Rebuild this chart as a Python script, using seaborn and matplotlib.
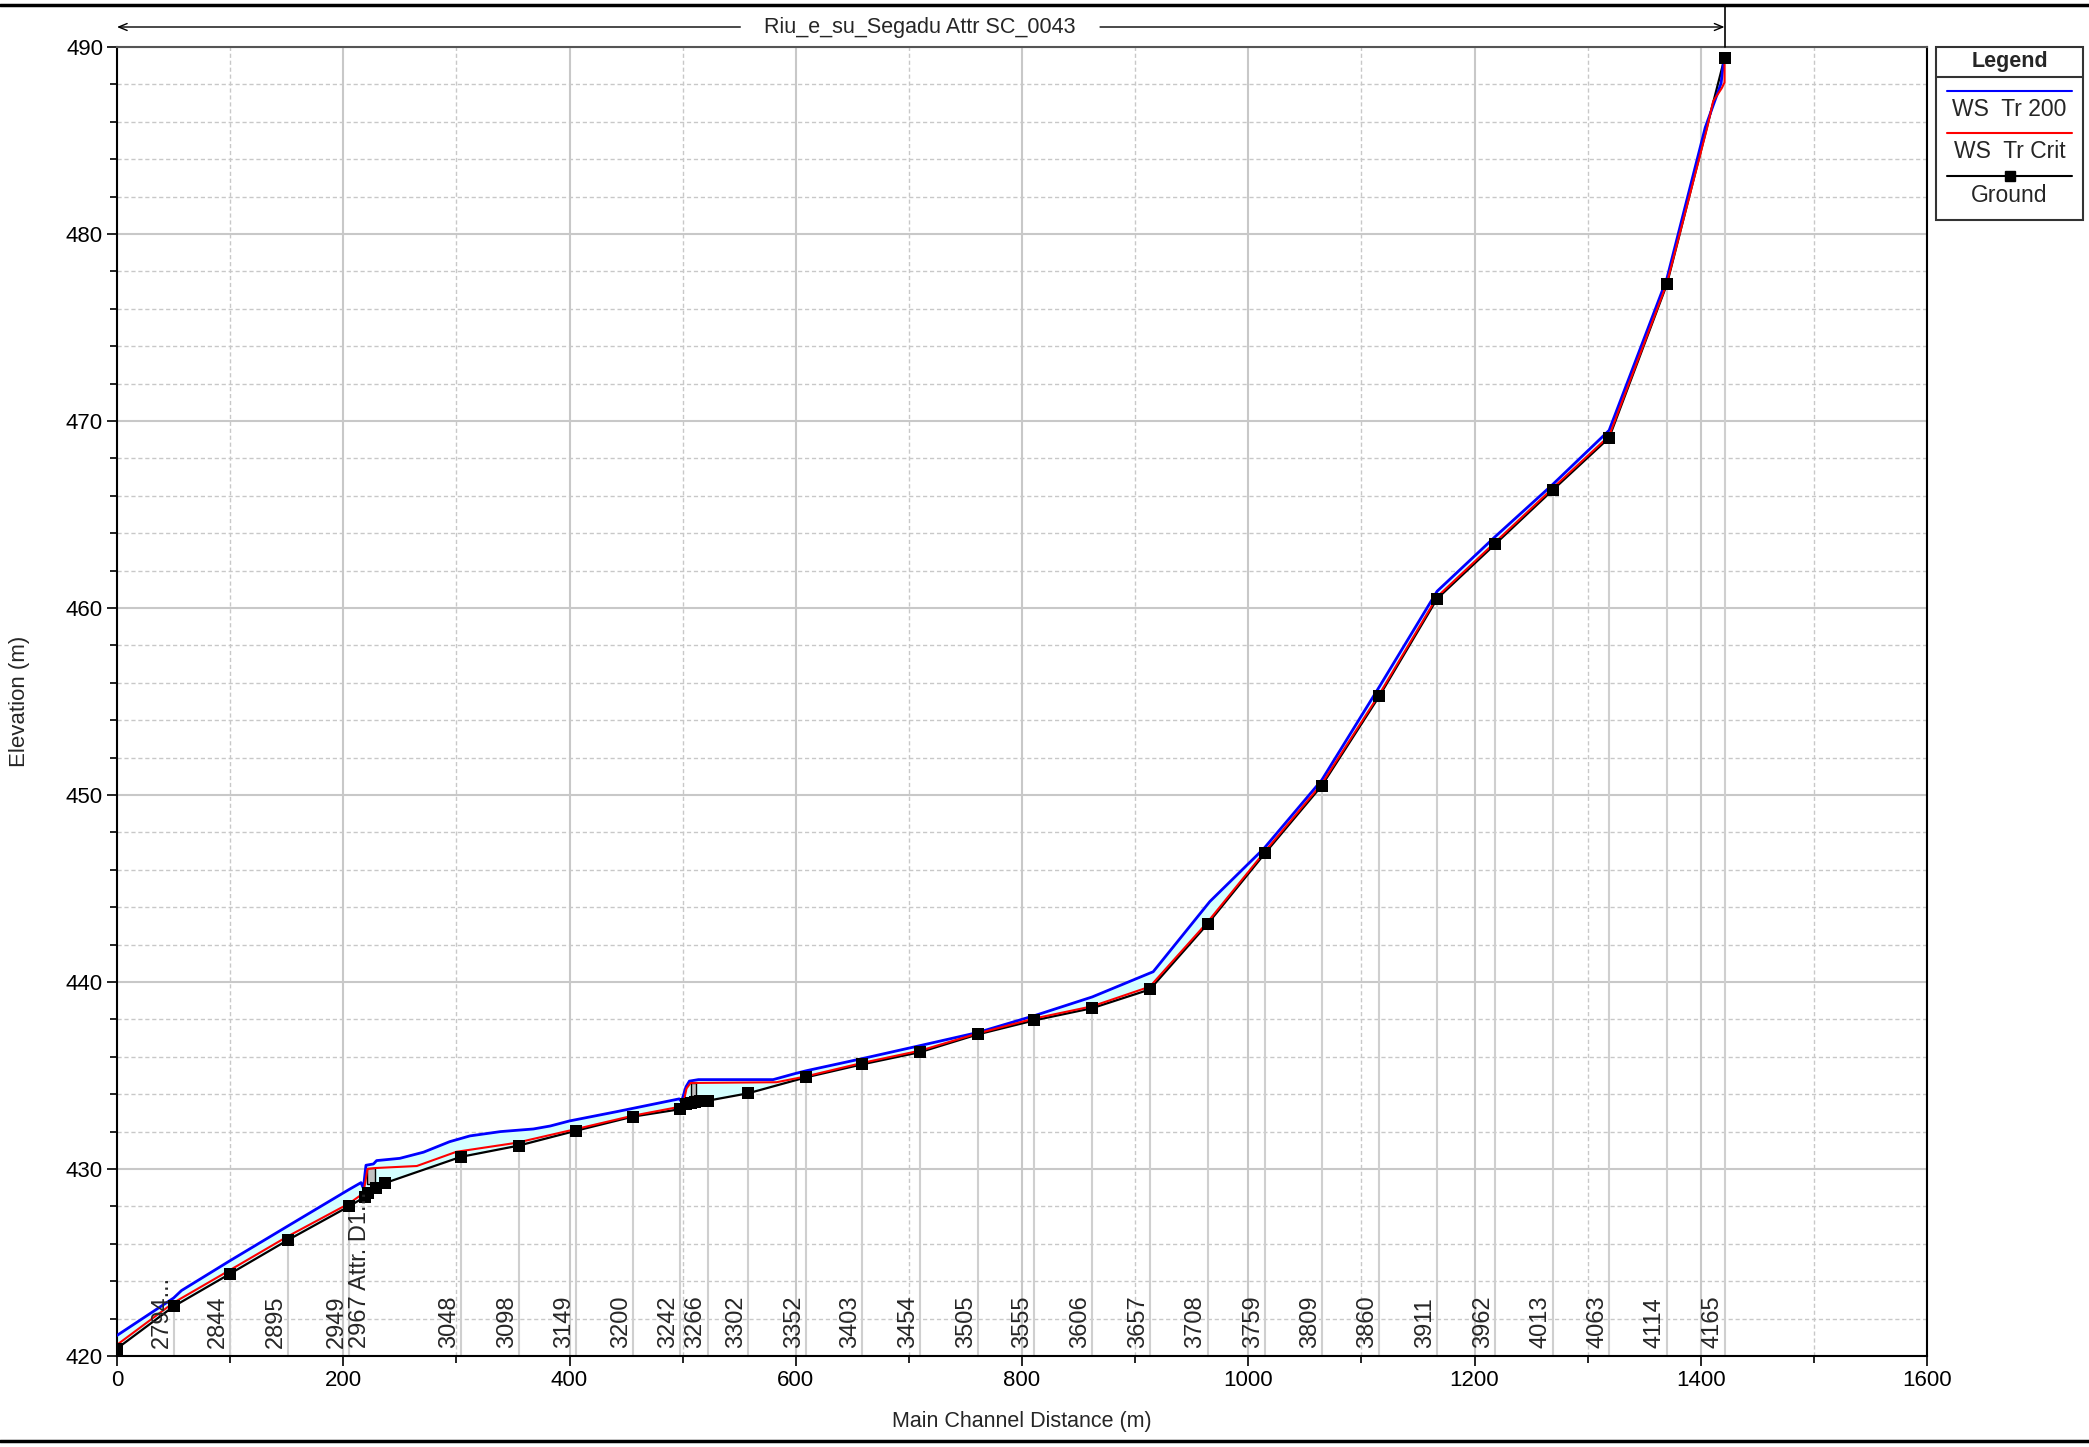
import numpy as np
import pandas as pd
import matplotlib
matplotlib.use("Agg")
import matplotlib.pyplot as plt
import seaborn as sns
from matplotlib.lines import Line2D
from matplotlib.patches import Rectangle
from matplotlib.transforms import blended_transform_factory

sns.set_style("white")
plt.rcParams['font.family'] = ['Liberation Sans', 'DejaVu Sans']

# Ground profile (main channel distance, m / elevation, m)
ground_x = [0, 50, 100, 151, 205, 219, 222, 229, 237, 304, 355, 406, 456, 498, 503, 507, 511, 515, 522,
            558, 609, 659, 710, 761, 811, 862, 913, 964, 1015, 1065, 1116, 1167, 1218, 1269, 1319, 1370, 1421]
ground_z = [420.4, 422.65, 424.4, 426.2, 428.0, 428.5, 428.7, 429.0, 429.25, 430.65, 431.25, 432.05, 432.8,
            433.2, 433.45, 433.55, 433.6, 433.62, 433.65, 434.05, 434.9, 435.6, 436.25, 437.2, 437.95, 438.6,
            439.6, 443.1, 446.9, 450.5, 455.3, 460.5, 463.4, 466.3, 469.1, 477.3, 489.4]

# WS Tr 200
ws200_x = [0, 50, 57, 100, 151, 205, 215.7, 217.8, 219.5, 220.1, 226.7, 229.5, 250, 271, 294, 312, 339, 368,
           383, 400, 442, 497, 499, 503, 506, 514, 580, 598, 609, 660, 710, 761, 811, 862, 916, 966, 1014,
           1065, 1116, 1167, 1218, 1269, 1319, 1370, 1404, 1418, 1421]
ws200_z = [421.1, 423.1, 423.5, 425.1, 426.95, 428.9, 429.27, 428.97, 429.9, 430.2, 430.27, 430.45, 430.57,
           430.9, 431.46, 431.77, 432.0, 432.14, 432.3, 432.57, 433.07, 433.75, 433.6, 434.4, 434.7, 434.78,
           434.78, 435.08, 435.25, 435.92, 436.6, 437.3, 438.2, 439.2, 440.55, 444.3, 447.15, 450.8, 455.8,
           460.9, 463.8, 466.6, 469.5, 477.6, 485.7, 488.06, 489.66]

# WS Tr Crit
crit_x = [0, 50, 100, 151, 205, 217.8, 221.4, 228, 265, 300, 353, 406, 456, 497.7, 501, 503.4, 507, 583, 608,
          660, 710, 761, 811, 862, 913, 964, 1015, 1065, 1116, 1167, 1218, 1269, 1319, 1370, 1405.5, 1411,
          1418.6, 1421, 1421]
crit_z = [420.6, 422.85, 424.6, 426.4, 428.15, 428.7, 430.0, 430.05, 430.16, 430.92, 431.4, 432.14, 432.85,
          433.33, 433.6, 434.3, 434.6, 434.64, 434.94, 435.69, 436.33, 437.25, 438.05, 438.7, 439.75, 443.2,
          447.0, 450.6, 455.4, 460.6, 463.5, 466.4, 469.2, 477.35, 485.65, 487.1, 487.8, 488.1, 489.4]

# River station labels
station_labels = ["2794...", "2844", "2895", "2949", "2967 Attr. D1...", "3048", "3098", "3149", "3200",
                  "3242", "3266", "3302", "3352", "3403", "3454", "3505", "3555", "3606", "3657", "3708",
                  "3759", "3809", "3860", "3911", "3962", "4013", "4063", "4114", "4165"]
station_x = [50, 100, 151, 205, 225, 304, 355, 406, 456, 498, 522, 558, 609, 659, 710, 761, 811, 862, 913,
             964, 1015, 1065, 1116, 1167, 1218, 1269, 1319, 1370, 1421]
# cross-section lines (stations that sit on a ground point)
xs_x = [50, 100, 151, 205, 304, 355, 406, 456, 498, 522, 558, 609, 659, 710, 761, 811, 862, 913,
        964, 1015, 1065, 1116, 1167, 1218, 1269, 1319, 1370, 1421]
xs_z = [422.65, 424.4, 426.2, 428.0, 430.65, 431.25, 432.05, 432.8, 433.2, 433.65, 434.05, 434.9, 435.6,
        436.25, 437.2, 437.95, 438.6, 439.6, 443.1, 446.9, 450.5, 455.3, 460.5, 463.4, 466.3, 469.1,
        477.3, 489.4]

# bridge decks
bridge_x0 = [221, 507.2]
bridge_x1 = [228, 511.8]
bridge_low = [429.2, 433.9]
bridge_high = [430.05, 434.6]

W, H = 2089, 1447
fig = plt.figure(figsize=(W / 100, H / 100), dpi=100)
ax = fig.add_axes([117 / W, 1 - 1356 / H, 1810 / W, 1309 / H])

# water fill between WS Tr 200 and ground
ax.fill(np.r_[ws200_x, ground_x[::-1]], np.r_[ws200_z, ground_z[::-1]],
        color='#d4ffff', lw=0, zorder=1)
ax.vlines(xs_x, 420, xs_z, color='#cfcfcf', lw=1.5, zorder=1.5)

for x0, x1, lo, hi in zip(bridge_x0, bridge_x1, bridge_low, bridge_high):
    ax.add_patch(Rectangle((x0, lo), x1 - x0, hi - lo, fc='#c0c0c0', ec='black', lw=1, zorder=2))

sns.lineplot(x=ground_x, y=ground_z, sort=False, estimator=None, color='black', lw=1.6, ax=ax, zorder=3)
sns.lineplot(x=ws200_x, y=ws200_z, sort=False, estimator=None, color='#0000ff', lw=2, ax=ax, zorder=4)
sns.lineplot(x=crit_x, y=crit_z, sort=False, estimator=None, color='#ff0000', lw=1.5, ax=ax, zorder=5)
sns.scatterplot(x=ground_x, y=ground_z, marker='s', s=70, color='black', linewidth=0, ax=ax, zorder=6)

for lab, sx in zip(station_labels, station_x):
    ax.annotate(lab, xy=(sx, 420), xytext=(-1, 8), textcoords='offset pixels',
                rotation=90, ha='right', va='bottom', fontsize=17, zorder=7)

ax.set_xlim(0, 1600)
ax.set_ylim(420, 490)
ax.set_xticks(range(0, 1601, 200))
ax.set_xticks(range(100, 1600, 200), minor=True)
ax.set_yticks(range(420, 491, 10))
ax.set_yticks([v for v in range(420, 491, 2) if v % 10], minor=True)
ax.tick_params(which='both', bottom=True, left=True, direction='out', width=1.2, colors='black')
ax.tick_params(which='major', length=7, labelsize=16, pad=3)
ax.tick_params(which='minor', length=5)
ax.set_axisbelow(True)
ax.grid(which='major', color='#c8c8c8', lw=1.5, ls='-')
ax.grid(which='minor', color='#c8c8c8', lw=1, ls=(0, (3, 2)))
for side in ['left', 'bottom', 'right']:
    ax.spines[side].set_color('black')
    ax.spines[side].set_linewidth(1.5)
ax.spines['top'].set_color('#555555')
ax.spines['top'].set_linewidth(1.5)
ax.set_xlabel('')
ax.set_ylabel('')

fig.text(0.5 * (117 + 1927) / W, 1 - 1421 / H, 'Main Channel Distance (m)', ha='center', va='center',
         fontsize=15.5)
fig.text(20 / W, 1 - 701 / H, 'Elevation (m)', ha='center', va='center', rotation=90, fontsize=16)

# title bracket
trans = blended_transform_factory(ax.transData, fig.transFigure)
yb = 1 - 27 / H
arrow = dict(arrowstyle='->,head_length=0.6,head_width=0.25', color='black', lw=1, shrinkA=0, shrinkB=0)
ax.annotate('', xy=(0, yb), xytext=(551, yb), xycoords=trans, textcoords=trans, arrowprops=arrow)
ax.annotate('', xy=(1421, yb), xytext=(869, yb), xycoords=trans, textcoords=trans, arrowprops=arrow)
ax.text(710, yb, 'Riu_e_su_Segadu Attr SC_0043', transform=trans, ha='center', va='center', fontsize=15.5)
fig.add_artist(Line2D([1421, 1421], [1 - 5 / H, 1 - 47 / H], transform=trans, color='black', lw=1.2))

# frame lines
fig.add_artist(Line2D([0, 1], [1 - 5 / H] * 2, transform=fig.transFigure, color='black', lw=2.5))
fig.add_artist(Line2D([0, 1], [1 - 1441 / H] * 2, transform=fig.transFigure, color='black', lw=2.5))

# legend box
lx0, lx1 = 1936 / W, 2083 / W
ly0, ly1 = 1 - 220 / H, 1 - 47 / H
fig.add_artist(Rectangle((lx0, ly0), lx1 - lx0, ly1 - ly0, transform=fig.transFigure,
                         fc='white', ec='#333333', lw=1.5))
lc = 0.5 * (lx0 + lx1)
fig.text(lc, 1 - 61 / H, 'Legend', ha='center', va='center', fontsize=15.5, fontweight='bold')
fig.add_artist(Line2D([lx0, lx1], [1 - 77 / H] * 2, transform=fig.transFigure, color='#333333', lw=1.5))
lsx = [1947 / W, 2072 / W]
fig.add_artist(Line2D(lsx, [1 - 91 / H] * 2, transform=fig.transFigure, color='#0000ff', lw=1.5))
fig.text(lc, 1 - 109 / H, 'WS  Tr 200', ha='center', va='center', fontsize=16.5)
fig.add_artist(Line2D(lsx, [1 - 133 / H] * 2, transform=fig.transFigure, color='#ff0000', lw=1.5))
fig.text(lc, 1 - 152 / H, 'WS  Tr Crit', ha='center', va='center', fontsize=16.5)
fig.add_artist(Line2D(lsx, [1 - 176 / H] * 2, transform=fig.transFigure, color='black', lw=1.5))
fig.add_artist(Line2D([lc], [1 - 176 / H], transform=fig.transFigure, marker='s', markersize=6.5,
                      color='black', lw=0))
fig.text(lc, 1 - 195 / H, 'Ground', ha='center', va='center', fontsize=16.5)

fig.savefig('out.png', dpi=100)
